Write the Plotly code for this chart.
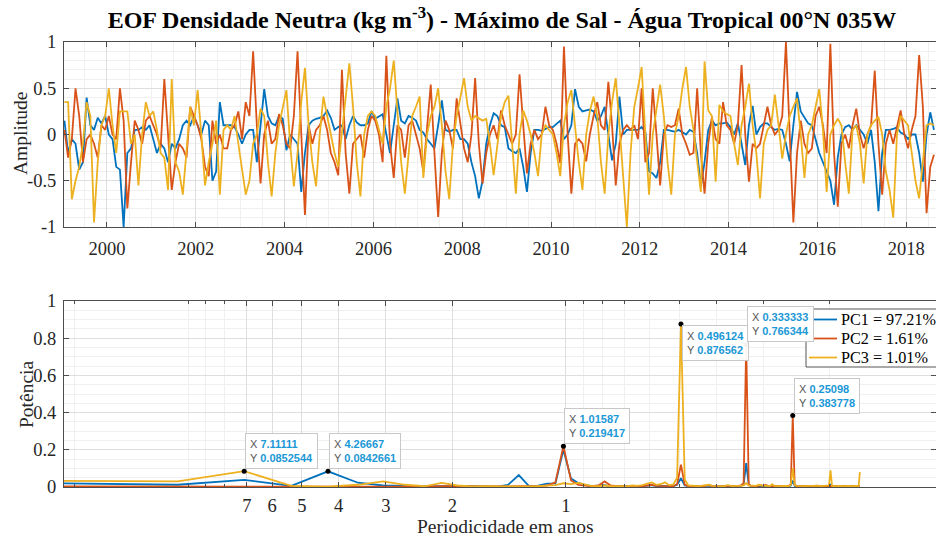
import math
import plotly.graph_objects as go

# ---------------- DATA ----------------
start_year = 1999
pc1 = [0.15,-0.2,-0.05,-0.1,-0.38,-0.3,0.4,0.1,0.05,0.18,0.12,0.2,0.0,-0.05,-0.35,-0.38,-1.0,-0.2,-0.15,0.05,0.05,0.08,0.05,0.1,-0.05,-0.2,-0.1,-0.15,-0.3,-0.1,-0.15,-0.05,0.1,0.15,0.1,0.2,0.1,0.0,0.15,0.1,-0.5,-0.4,0.35,0.1,0.1,0.1,0.08,0.0,-0.1,0.0,0.05,
       0.05,-0.3,0.1,0.49,0.2,0.12,0.1,0.2,0.17,-0.17,0.0,-0.05,-0.1,-0.62,-0.2,0.1,0.15,0.17,0.18,0.2,0.26,0.18,0.05,0.08,0.1,-0.05,0.1,0.2,0.13,0.1,0.1,0.12,0.25,0.17,0.2,0.22,0.0,-0.2,0.1,0.39,0.15,0.12,0.2,0.18,0.15,0.05,0.02,-0.05,-0.1,-0.15,0.1,0.37,0.05,0.03,0.05,0.05,-0.05,-0.05,-0.1,-0.3,-0.45,-0.69,
       -0.5,-0.1,0.1,0.23,0.2,0.1,0.08,-0.15,-0.18,-0.2,-0.15,-0.35,-0.62,-0.2,0.05,0.05,0.04,0.06,0.08,0.08,0.12,0.15,-0.05,0.0,0.1,0.49,0.3,0.25,0.26,0.27,0.25,0.15,0.2,0.3,0.0,-0.28,-0.1,0.41,0.0,0.05,0.05,0.05,0.05,0.08,0.03,-0.4,-0.42,-0.47,-0.3,0.05,0.05,0.04,0.03,0.05,0.02,0.0,0.05,0.03,-0.2,
       -0.56,-0.3,0.05,0.15,0.1,0.12,0.12,0.13,0.08,0.0,0.12,-0.1,-0.33,0.1,0.31,0.0,0.08,0.12,0.12,0.08,0.05,0.06,0.05,-0.1,-0.29,0.1,0.46,0.25,0.18,0.12,0.1,-0.05,-0.2,-0.3,-0.4,-0.5,-0.76,-0.25,0.0,0.08,0.1,0.05,0.1,0.05,0.0,-0.1,0.05,-0.3,-0.83,-0.2,0.05,0.05,0.06,0.08,0.02,0.0,-0.05,0.0,0.0,-0.2,-0.51,0.0,0.24,0.05]
pc2 = [0.05,-0.25,-0.05,0.5,0.2,-0.3,-0.05,0.0,-0.1,-0.25,0.1,0.05,0.2,0.0,-0.05,0.5,0.15,-0.8,-0.3,0.15,0.05,-0.1,0.15,0.2,0.1,0.0,-0.15,0.6,0.0,-0.6,-0.3,-0.1,-0.15,-0.25,0.3,0.2,0.1,-0.05,-0.35,-0.45,0.15,-0.1,0.0,-0.15,-0.15,0.05,0.1,0.25,-0.05,0.35,0.2,
       0.9,0.1,-0.53,0.0,0.15,-0.1,-0.05,0.22,0.1,-0.1,-0.15,0.2,0.9,0.0,-0.87,0.1,-0.1,0.05,0.1,0.2,0.05,-0.2,-0.3,-0.44,0.7,-0.2,-0.64,-0.1,-0.05,0.0,-0.25,0.05,0.2,0.15,0.0,-0.3,0.85,-0.1,-0.47,0.1,0.05,-0.25,0.1,0.15,0.0,-0.15,-0.4,0.1,0.54,-0.2,-0.89,-0.2,0.15,0.05,-0.15,0.39,0.1,-0.15,-0.3,0.0,0.61,-0.1,-0.53,
       -0.2,0.0,0.1,-0.05,0.26,0.1,0.0,-0.1,0.0,0.65,0.1,-0.42,-0.1,0.05,-0.05,0.0,0.3,0.1,0.05,-0.1,-0.31,0.95,0.0,-0.64,-0.1,-0.05,-0.1,-0.29,0.0,0.2,0.35,0.1,0.05,0.57,0.1,-0.55,-0.1,0.05,0.1,0.05,0.1,-0.05,0.5,-0.3,-0.2,0.5,0.0,-0.55,0.0,0.1,0.08,0.1,0.28,0.0,-0.1,-0.22,-0.2,0.5,-0.2,
       -0.64,-0.1,0.19,-0.05,-0.1,0.35,0.1,0.05,-0.1,0.1,0.75,0.0,-0.51,-0.1,-0.15,-0.1,0.1,0.3,0.1,0.0,0.05,0.2,1.0,0.0,-0.95,-0.2,0.15,-0.1,-0.2,-0.15,0.2,0.3,0.1,-0.2,0.98,-0.2,-0.78,-0.1,0.0,-0.15,0.1,0.28,0.0,-0.15,0.0,0.1,0.69,-0.1,-0.65,-0.1,0.05,-0.1,0.1,0.26,0.0,-0.15,0.05,0.2,0.86,0.3,-0.85,-0.35,-0.22]
pc3 = [0.35,0.35,-0.7,-0.5,-0.35,-0.1,0.35,0.2,-0.95,-0.3,0.1,0.2,0.5,0.1,-0.2,0.25,0.25,0.25,-0.1,0.0,-0.55,0.0,0.35,0.2,0.25,0.05,-0.2,-0.25,-0.6,0.6,-0.3,-0.4,-0.65,-0.2,0.3,0.1,0.48,0.0,-0.55,-0.3,-0.1,0.15,-0.65,0.05,0.1,0.05,0.2,-0.1,-0.4,-0.65,-0.5,
       -0.1,0.0,0.28,0.2,-0.3,-0.67,-0.2,0.1,0.3,0.48,-0.1,-0.56,-0.2,0.35,0.72,0.1,-0.3,-0.56,0.0,0.41,0.2,0.0,-0.2,-0.35,0.0,0.4,0.77,0.3,-0.3,-0.67,0.0,0.2,0.25,0.2,0.05,-0.1,0.3,0.5,0.8,0.2,-0.3,-0.64,-0.2,0.2,0.3,0.41,-0.47,0.0,0.2,0.3,0.5,0.1,-0.4,-0.7,-0.1,0.2,0.4,0.61,0.3,0.15,0.2,
       0.17,0.15,0.17,-0.1,-0.44,-0.1,0.2,0.35,0.42,-0.1,-0.64,0.0,0.26,0.15,0.0,-0.2,-0.45,0.0,0.1,0.05,0.0,-0.2,-0.45,0.1,0.35,0.48,0.1,-0.3,-0.6,0.0,0.25,0.41,0.2,-0.3,-0.64,0.0,0.35,0.61,0.1,-0.4,-1.0,-0.2,0.3,0.5,0.73,0.0,-0.65,0.0,0.3,0.54,0.2,-0.3,-0.65,0.0,0.2,0.5,0.73,0.3,0.05,-0.3,-0.62,
       0.79,0.26,0.2,-0.51,0.32,0.25,0.22,0.2,-0.1,-0.33,0.1,0.3,0.55,0.1,-0.2,-0.69,-0.1,0.05,0.1,0.43,0.1,-0.26,0.0,0.2,0.3,0.39,0.0,-0.47,0.0,0.1,0.3,0.49,0.05,-0.62,0.0,0.1,0.17,0.1,-0.3,-0.64,0.05,0.1,-0.1,-0.53,0.0,0.1,0.15,0.19,0.0,-0.4,-0.6,-0.9,0.0,0.2,0.15,0.1,-0.2,-0.5,-0.69,-0.3,0.1,0.12,0.1]

# spectrum: FFT bins k = 1..128 (256-point FFT of monthly data)
n_fft = 256
spec_pc1 = [0.020,0.012,0.038,0.006,0.0842661,0.023,0.008,0.004,0.003,0.005,0.006,0.004,0.003,0.002,0.012,0.064,
            0.006,0.007,0.018,0.020,0.200,0.045,0.022,0.010,0.004,0.006,0.010,0.004,0.003,0.005,0.004,0.006,
            0.003,0.005,0.008,0.010,0.005,0.004,0.007,0.005,0.004,0.012,0.047,0.008,0.004,0.003,0.005,0.004,
            0.003,0.006,0.008,0.004,0.003,0.005,0.004,0.006,0.003,0.004,0.005,0.003,0.004,0.006,0.015,0.128,
            0.012,0.004,0.003,0.005,0.004,0.003,0.006,0.004,0.003,0.005,0.004,0.003,0.004,0.005,0.003,0.004,
            0.003,0.004,0.005,0.008,0.035,0.006,0.003,0.004,0.003,0.005,0.004,0.003,0.004,0.003,0.005,0.004,
            0.003,0.004,0.003,0.004,0.005,0.003,0.004,0.003,0.004,0.006,0.012,0.004,0.003,0.004,0.003,0.004,
            0.005,0.003,0.004,0.003,0.004,0.003,0.005,0.004,0.003,0.004,0.003,0.004,0.003,0.004,0.003,0.005]
spec_pc2 = [0.003,0.002,0.004,0.003,0.002,0.003,0.004,0.003,0.002,0.004,0.003,0.002,0.003,0.004,0.003,0.004,
            0.003,0.005,0.008,0.025,0.219417,0.035,0.012,0.006,0.004,0.008,0.030,0.008,0.004,0.005,0.003,0.006,
            0.004,0.005,0.008,0.012,0.006,0.005,0.008,0.006,0.005,0.015,0.120,0.012,0.005,0.004,0.006,0.005,
            0.004,0.008,0.010,0.005,0.004,0.006,0.005,0.004,0.006,0.005,0.004,0.005,0.006,0.008,0.020,0.766344,
            0.015,0.006,0.004,0.005,0.006,0.010,0.005,0.012,0.006,0.004,0.005,0.004,0.006,0.005,0.004,0.005,
            0.004,0.005,0.006,0.015,0.383778,0.012,0.005,0.004,0.005,0.004,0.006,0.004,0.005,0.004,0.006,0.005,
            0.004,0.005,0.004,0.005,0.004,0.005,0.004,0.005,0.004,0.005,0.006,0.004,0.005,0.004,0.005,0.004,
            0.005,0.004,0.005,0.004,0.005,0.004,0.005,0.004,0.005,0.004,0.005,0.004,0.005,0.004,0.005,0.004]
spec_pc3 = [0.033,0.030,0.0852544,0.006,0.002,0.012,0.030,0.012,0.004,0.022,0.008,0.003,0.004,0.003,0.002,0.004,
            0.003,0.005,0.008,0.010,0.020,0.015,0.022,0.012,0.005,0.004,0.008,0.004,0.006,0.005,0.004,0.008,
            0.006,0.010,0.018,0.025,0.012,0.015,0.025,0.010,0.012,0.050,0.876562,0.040,0.008,0.005,0.006,0.005,
            0.006,0.008,0.012,0.006,0.005,0.007,0.006,0.005,0.010,0.006,0.005,0.006,0.005,0.006,0.008,0.020,
            0.008,0.006,0.005,0.006,0.012,0.007,0.006,0.008,0.006,0.005,0.015,0.006,0.005,0.006,0.005,0.006,
            0.005,0.006,0.005,0.012,0.100,0.010,0.006,0.005,0.006,0.005,0.006,0.005,0.006,0.005,0.006,0.005,
            0.006,0.008,0.005,0.006,0.005,0.006,0.005,0.006,0.005,0.008,0.090,0.006,0.005,0.006,0.005,0.006,
            0.005,0.006,0.005,0.006,0.005,0.006,0.005,0.006,0.005,0.006,0.005,0.006,0.005,0.006,0.004,0.080]

legend_names = ["PC1 = 97.21%", "PC2 = 1.61%", "PC3 = 1.01%"]
period_ticks = [7, 6, 5, 4, 3, 2, 1]
period_minor = [20, 10, 9, 8, 0.9, 0.8, 0.7, 0.6, 0.5, 0.4, 0.3, 0.2]
year_ticks = list(range(2000, 2019, 2))
# datatips: (series index, FFT bin k, box above the point?)
datatips = [(2, 3, True), (0, 5, True), (1, 21, True), (2, 43, False), (1, 64, True), (1, 85, True)]

# ---------------- STYLE ----------------
colors = ["#0072BD", "#D95319", "#EDB120"]
serif = "Liberation Serif, Times New Roman, serif"
W, H = 936, 536
ML, MR, MT, MB = 64, 0, 42, 49
PW, PH = W - ML - MR, H - MT - MB


def px_x(px):
    return (px - ML) / PW


def px_y(py):
    return (H - MB - py) / PH


axis_col = "#4d4d4d"
grid_col = "#dedede"
minor_col = "#f0f0f0"
text_col = "#262626"
tick_size = 18.5
label_size = 19.5

series = [pc1, pc2, pc3]
specs = [spec_pc1, spec_pc2, spec_pc3]

fig = go.Figure()
for i, s in enumerate(series):
    t = [start_year + (m + 0.5) / 12 for m in range(len(s))]
    fig.add_trace(go.Scatter(x=t, y=s, mode="lines", line=dict(color=colors[i], width=1.8),
                             showlegend=False, xaxis="x", yaxis="y", hoverinfo="skip"))

for i, sp in enumerate(specs):
    per = [n_fft / (12 * (k + 1)) for k in range(len(sp))]
    fig.add_trace(go.Scatter(x=per, y=sp, mode="lines", line=dict(color=colors[i], width=1.8),
                             name=legend_names[i], showlegend=False, xaxis="x2", yaxis="y2",
                             hoverinfo="skip"))

# datatip markers and boxes
dx, dy = [], []
annotations = []
for si, k, above in datatips:
    per = n_fft / (12 * k)
    val = specs[si][k - 1]
    dx.append(per)
    dy.append(val)
    txt = ("<span style='color:#555555'>X </span><b><span style='color:#1b98d6'>%s</span></b><br>"
           "<span style='color:#555555'>Y </span><b><span style='color:#1b98d6'>%s</span></b>") % (
        "%.6g" % per, "%.6g" % val)
    annotations.append(dict(x=math.log10(per), y=val, xref="x2", yref="y2", text=txt, showarrow=False,
                            xanchor="left", yanchor="bottom" if above else "top",
                            xshift=1, yshift=2 if above else -1, align="left",
                            font=dict(family="Liberation Sans, Arial, sans-serif", size=11),
                            bgcolor="rgba(255,255,255,0.95)", bordercolor="#c8c8c8", borderwidth=1,
                            borderpad=4))
fig.add_trace(go.Scatter(x=dx, y=dy, mode="markers", marker=dict(color="black", size=5),
                         showlegend=False, xaxis="x2", yaxis="y2", hoverinfo="skip"))

# axis titles as annotations
annotations += [
    dict(text="Amplitude", x=px_x(20), y=px_y(134), xref="paper", yref="paper", showarrow=False,
         xanchor="center", yanchor="middle", textangle=-90,
         font=dict(family=serif, size=label_size, color=text_col)),
    dict(text="Potência", x=px_x(26), y=px_y(395), xref="paper", yref="paper", showarrow=False,
         xanchor="center", yanchor="middle", textangle=-90,
         font=dict(family=serif, size=label_size, color=text_col)),
    dict(text="Periodicidade em anos", x=px_x(505), y=px_y(526), xref="paper", yref="paper",
         showarrow=False, xanchor="center", yanchor="middle",
         font=dict(family=serif, size=label_size, color=text_col)),
]

# legend (drawn inside the lower axes, reaching the right edge like the original)
shapes = [dict(type="rect", xref="paper", yref="paper", x0=px_x(806), x1=px_x(950),
               y0=px_y(367), y1=px_y(309), line=dict(color="#555555", width=1), fillcolor="white",
               layer="above")]
leg_rows = [319.5, 338.5, 357.5]
for i, name in enumerate(legend_names):
    shapes.append(dict(type="line", xref="paper", yref="paper", x0=px_x(809), x1=px_x(837),
                       y0=px_y(leg_rows[i]), y1=px_y(leg_rows[i]),
                       line=dict(color=colors[i], width=1.8), layer="above"))
    annotations.append(dict(text=name, x=px_x(839), y=px_y(leg_rows[i]), xref="paper", yref="paper",
                            showarrow=False, xanchor="left", yanchor="middle",
                            font=dict(family=serif, size=16.2, color="black")))

common = dict(showline=True, linecolor=axis_col, linewidth=1, mirror="ticks", ticks="inside", ticklen=5,
              tickcolor=axis_col, showgrid=True, gridcolor=grid_col, gridwidth=1, zeroline=False,
              tickfont=dict(family=serif, size=tick_size, color=text_col))

x_lo = 1999.032
x_hi = 2018.671
p_lo = 21.3333
p_hi = 0.1048

fig.update_layout(
    width=W, height=H, margin=dict(l=ML, r=MR, t=MT, b=MB, autoexpand=False),
    paper_bgcolor="white", plot_bgcolor="white", showlegend=False,
    title=dict(text="<b>EOF Densidade Neutra (kg m<sup>-3</sup>) - Máximo de Sal - Água Tropical 00°N 035W</b>",
               x=502 / W, xref="container", xanchor="center", y=1 - 20 / H, yref="container",
               yanchor="middle", font=dict(family=serif, size=24, color="black")),
    xaxis=dict(domain=[0, 1], anchor="y", range=[x_lo, x_hi], tickmode="array", tickvals=year_ticks,
               ticktext=[str(v) for v in year_ticks], ticklabelstandoff=5,
               minor=dict(dtick=0.5, tick0=2000, showgrid=True, gridcolor=minor_col, ticks=""), **common),
    yaxis=dict(domain=[px_y(227), px_y(42)], anchor="x", range=[-1, 1], tickmode="array",
               tickvals=[-1, -0.5, 0, 0.5, 1], ticktext=["-1", "-0.5", "0", "0.5", "1"],
               ticklabelstandoff=3,
               minor=dict(dtick=0.1, tick0=0, showgrid=True, gridcolor=minor_col, ticks=""), **common),
    xaxis2=dict(domain=[0, 1], anchor="y2", type="log", range=[math.log10(p_lo), math.log10(p_hi)],
                tickmode="array", tickvals=period_ticks, ticktext=[str(v) for v in period_ticks],
                ticklabelstandoff=2,
                minor=dict(tickmode="array", tickvals=period_minor, showgrid=True, gridcolor=minor_col,
                           ticks="inside", ticklen=3, tickcolor=axis_col), **common),
    yaxis2=dict(domain=[px_y(487), px_y(301)], anchor="x2", range=[0, 1], tickmode="array",
                tickvals=[0, 0.2, 0.4, 0.6, 0.8, 1], ticktext=["0", "0.2", "0.4", "0.6", "0.8", "1"],
                ticklabelstandoff=3,
                minor=dict(dtick=0.05, tick0=0, showgrid=True, gridcolor=minor_col, ticks=""), **common),
    annotations=annotations,
    shapes=shapes,
)

fig.write_html("out.html", config={"displayModeBar": False},
               post_script="document.body.style.margin='0px';")
